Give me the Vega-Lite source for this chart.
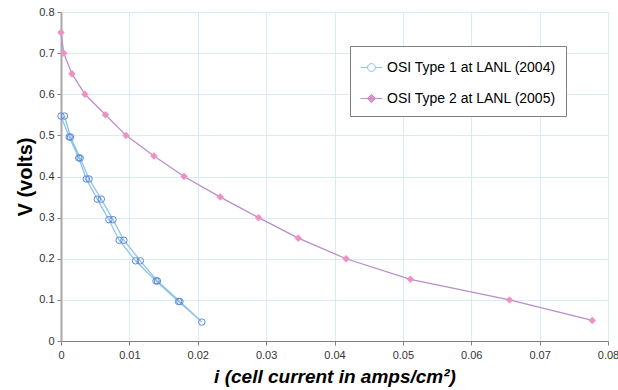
{
  "$schema": "https://vega.github.io/schema/vega-lite/v6.json",
  "width": 547,
  "height": 329,
  "autosize": "none",
  "padding": {"left": 61, "top": 12, "right": 10, "bottom": 49},
  "background": "white",
  "config": {
    "view": {"stroke": null},
    "font": "Liberation Sans"
  },
  "data": {
    "values": [
      {"series": "OSI Type 1 at LANL (2004)", "ord": 1, "i": 0.0000, "V": 0.547},
      {"series": "OSI Type 1 at LANL (2004)", "ord": 2, "i": 0.0012, "V": 0.496},
      {"series": "OSI Type 1 at LANL (2004)", "ord": 3, "i": 0.0026, "V": 0.445},
      {"series": "OSI Type 1 at LANL (2004)", "ord": 4, "i": 0.0037, "V": 0.394},
      {"series": "OSI Type 1 at LANL (2004)", "ord": 5, "i": 0.0053, "V": 0.345},
      {"series": "OSI Type 1 at LANL (2004)", "ord": 6, "i": 0.0070, "V": 0.295},
      {"series": "OSI Type 1 at LANL (2004)", "ord": 7, "i": 0.0085, "V": 0.245},
      {"series": "OSI Type 1 at LANL (2004)", "ord": 8, "i": 0.0109, "V": 0.195},
      {"series": "OSI Type 1 at LANL (2004)", "ord": 9, "i": 0.0139, "V": 0.146},
      {"series": "OSI Type 1 at LANL (2004)", "ord": 10, "i": 0.0172, "V": 0.096},
      {"series": "OSI Type 1 at LANL (2004)", "ord": 11, "i": 0.0206, "V": 0.046},
      {"series": "OSI Type 1 at LANL (2004)", "ord": 12, "i": 0.0174, "V": 0.096},
      {"series": "OSI Type 1 at LANL (2004)", "ord": 13, "i": 0.0141, "V": 0.146},
      {"series": "OSI Type 1 at LANL (2004)", "ord": 14, "i": 0.0116, "V": 0.195},
      {"series": "OSI Type 1 at LANL (2004)", "ord": 15, "i": 0.0092, "V": 0.245},
      {"series": "OSI Type 1 at LANL (2004)", "ord": 16, "i": 0.0076, "V": 0.295},
      {"series": "OSI Type 1 at LANL (2004)", "ord": 17, "i": 0.0059, "V": 0.345},
      {"series": "OSI Type 1 at LANL (2004)", "ord": 18, "i": 0.0041, "V": 0.394},
      {"series": "OSI Type 1 at LANL (2004)", "ord": 19, "i": 0.0028, "V": 0.445},
      {"series": "OSI Type 1 at LANL (2004)", "ord": 20, "i": 0.0014, "V": 0.496},
      {"series": "OSI Type 1 at LANL (2004)", "ord": 21, "i": 0.0005, "V": 0.547},
      {"series": "OSI Type 2 at LANL (2005)", "ord": 1, "i": 0.0000, "V": 0.75},
      {"series": "OSI Type 2 at LANL (2005)", "ord": 2, "i": 0.0004, "V": 0.70},
      {"series": "OSI Type 2 at LANL (2005)", "ord": 3, "i": 0.0016, "V": 0.65},
      {"series": "OSI Type 2 at LANL (2005)", "ord": 4, "i": 0.0035, "V": 0.60},
      {"series": "OSI Type 2 at LANL (2005)", "ord": 5, "i": 0.0065, "V": 0.55},
      {"series": "OSI Type 2 at LANL (2005)", "ord": 6, "i": 0.0095, "V": 0.50},
      {"series": "OSI Type 2 at LANL (2005)", "ord": 7, "i": 0.0136, "V": 0.45},
      {"series": "OSI Type 2 at LANL (2005)", "ord": 8, "i": 0.0180, "V": 0.40},
      {"series": "OSI Type 2 at LANL (2005)", "ord": 9, "i": 0.0233, "V": 0.35},
      {"series": "OSI Type 2 at LANL (2005)", "ord": 10, "i": 0.0289, "V": 0.30},
      {"series": "OSI Type 2 at LANL (2005)", "ord": 11, "i": 0.0347, "V": 0.25},
      {"series": "OSI Type 2 at LANL (2005)", "ord": 12, "i": 0.0417, "V": 0.20},
      {"series": "OSI Type 2 at LANL (2005)", "ord": 13, "i": 0.0511, "V": 0.15},
      {"series": "OSI Type 2 at LANL (2005)", "ord": 14, "i": 0.0656, "V": 0.10},
      {"series": "OSI Type 2 at LANL (2005)", "ord": 15, "i": 0.0777, "V": 0.05}
    ]
  },
  "encoding": {
    "x": {
      "field": "i", "type": "quantitative",
      "scale": {"domain": [0, 0.08], "nice": false, "zero": false},
      "axis": {
        "values": [0, 0.01, 0.02, 0.03, 0.04, 0.05, 0.06, 0.07, 0.08],
        "format": "~g",
        "title": "i (cell current in amps/cm²)",
        "titleFont": "Liberation Sans", "titleFontSize": 19, "titleFontWeight": "bold", "titleFontStyle": "italic",
        "titleColor": "black", "titlePadding": 7,
        "labelFont": "Liberation Sans", "labelFontSize": 11, "labelColor": "#333333", "labelPadding": 4,
        "labelFlush": false,
        "gridColor": "#D8ECF8", "gridWidth": 1,
        "domainColor": "#808080", "domainWidth": 1,
        "tickColor": "#808080", "tickSize": 4
      }
    },
    "y": {
      "field": "V", "type": "quantitative",
      "scale": {"domain": [0, 0.8], "nice": false, "zero": false},
      "axis": {
        "values": [0, 0.1, 0.2, 0.3, 0.4, 0.5, 0.6, 0.7, 0.8],
        "format": "~g",
        "title": "V (volts)",
        "titleFont": "Liberation Sans", "titleFontSize": 20, "titleFontWeight": "bold",
        "titleColor": "black", "titlePadding": 3,
        "labelFont": "Liberation Sans", "labelFontSize": 11, "labelColor": "#333333", "labelPadding": 3,
        "labelFlush": false,
        "gridColor": "#D8ECF8", "gridWidth": 1,
        "domainColor": "#A8A8A8", "domainWidth": 2,
        "tickColor": "#808080", "tickSize": 4
      }
    }
  },
  "layer": [
    {
      "mark": {"type": "line", "strokeWidth": 1.3},
      "encoding": {
        "order": {"field": "ord", "type": "quantitative"},
        "color": {
          "field": "series", "type": "nominal",
          "scale": {"domain": ["OSI Type 1 at LANL (2004)", "OSI Type 2 at LANL (2005)"], "range": ["#8EC4EC", "#B88ECC"]},
          "legend": {
            "title": null,
            "orient": "none",
            "legendX": 289,
            "legendY": 34,
            "padding": 10,
            "fillColor": "white",
            "strokeColor": "#808080",
            "labelFont": "Liberation Sans",
            "labelFontSize": 14,
            "labelColor": "black",
            "labelOffset": 4,
            "labelLimit": 300,
            "rowPadding": 12,
            "symbolSize": 484,
            "encode": {
              "symbols": {
                "update": {
                  "shape": [
                    {"test": "datum.value === 'OSI Type 1 at LANL (2004)'", "value": "M-1,0H-0.36M0.36,0H1M0.36,0A0.36,0.36,0,1,1,-0.36,0A0.36,0.36,0,1,1,0.36,0Z"},
                    {"value": "M-1,0H1M0,-0.38L0.38,0L0,0.38L-0.38,0Z"}
                  ],
                  "fill": [
                    {"test": "datum.value === 'OSI Type 1 at LANL (2004)'", "value": "transparent"},
                    {"value": "#EE90C2"}
                  ],
                  "stroke": [
                    {"test": "datum.value === 'OSI Type 1 at LANL (2004)'", "value": "#7FA8E0"},
                    {"value": "#D995C8"}
                  ],
                  "strokeWidth": {"value": 1},
                  "opacity": {"value": 1}
                }
              }
            }
          }
        }
      }
    },
    {
      "transform": [{"filter": "datum.series === 'OSI Type 1 at LANL (2004)'"}],
      "mark": {"type": "point", "shape": "circle", "filled": false, "size": 42, "stroke": "#5E88D8", "strokeWidth": 1, "opacity": 1}
    },
    {
      "transform": [{"filter": "datum.series === 'OSI Type 2 at LANL (2005)'"}],
      "mark": {"type": "point", "shape": "diamond", "filled": true, "size": 55, "fill": "#EE90C2", "opacity": 1}
    }
  ]
}
